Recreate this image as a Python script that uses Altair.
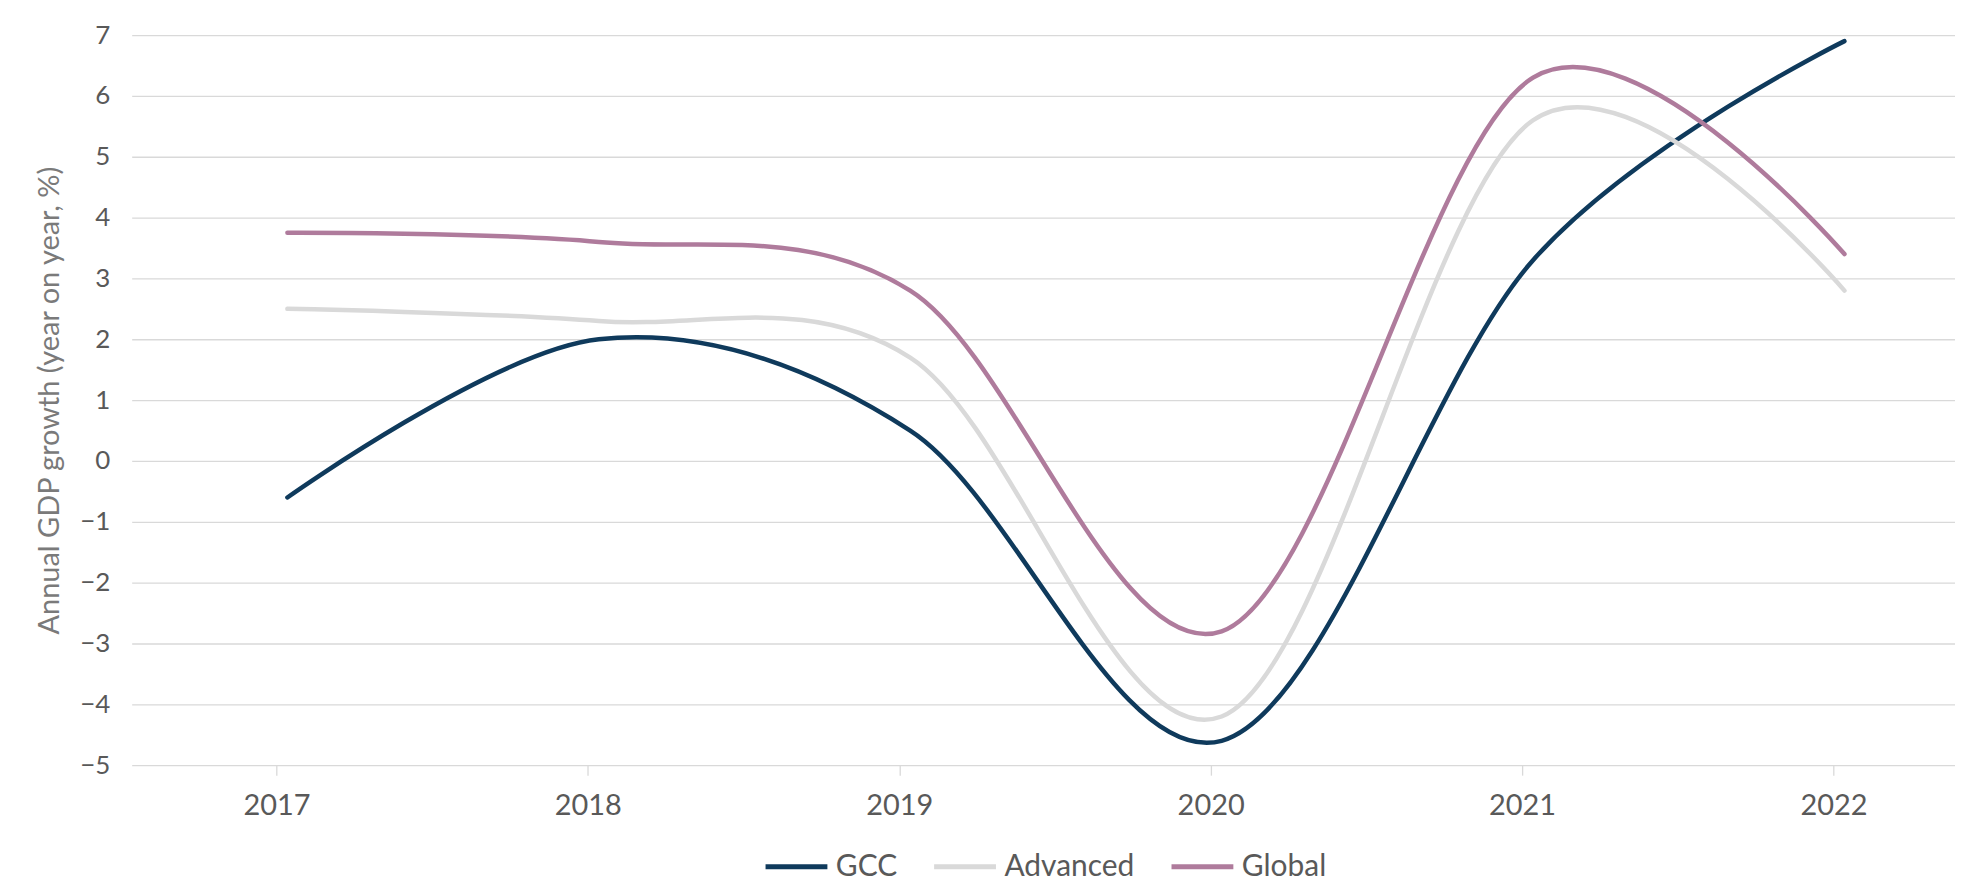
import altair as alt
import pandas as pd

years = [2017, 2018, 2019, 2020, 2021, 2022]
gcc = [-0.6, 2.0, 0.5, -4.6, 3.3, 6.9]
advanced = [2.5, 2.3, 1.7, -4.2, 5.6, 2.8]
global_ = [3.75, 3.6, 2.8, -2.8, 6.3, 3.4]

series_names = ["GCC", "Advanced", "Global"]
series_colors = ["#0F3A5C", "#D9D9D9", "#AF7B9C"]
y_ticks = list(range(-5, 8))

rows = []
for name, vals in zip(series_names, [gcc, advanced, global_]):
    for yr, v in zip(years, vals):
        rows.append({"year": yr, "value": v, "series": name})
df = pd.DataFrame(rows)

FONT = "Lato"
LABEL_COLOR = "#595959"

chart = (
    alt.Chart(df)
    .mark_line(interpolate="cardinal", tension=0, strokeWidth=4.5, strokeCap="round", strokeJoin="round")
    .encode(
        x=alt.X(
            "year:Q",
            scale=alt.Scale(domain=[2016.5, 2022.355], nice=False, zero=False),
            axis=alt.Axis(
                values=years,
                format="d",
                title=None,
                grid=False,
                domain=False,
                ticks=True,
                tickSize=10,
                tickColor="#D9D9D9",
                tickWidth=1.3,
                tickOffset=-11,
                labelFontSize=29,
                labelFont=FONT,
                labelColor=LABEL_COLOR,
                labelPadding=16,
            ),
        ),
        y=alt.Y(
            "value:Q",
            scale=alt.Scale(domain=[-5, 7], nice=False, zero=False),
            axis=alt.Axis(
                values=y_ticks,
                format="d",
                grid=True,
                gridColor="#D9D9D9",
                gridWidth=1.3,
                domain=False,
                ticks=False,
                labelFontSize=26,
                labelFont=FONT,
                labelColor=LABEL_COLOR,
                labelPadding=22,
                title="Annual GDP growth (year on year, %)",
                titleFont=FONT,
                titleFontSize=29,
                titleFontWeight="normal",
                titleColor="#7A7A7A",
                titleAngle=270,
                titleAlign="center",
                titleBaseline="middle",
                titleX=-82,
                titleY=366,
            ),
        ),
        color=alt.Color(
            "series:N",
            scale=alt.Scale(domain=series_names, range=series_colors),
            sort=series_names,
            legend=alt.Legend(
                title=None,
                orient="none",
                direction="horizontal",
                legendX=633,
                legendY=800,
                padding=0,
                symbolType="stroke",
                symbolStrokeWidth=5,
                symbolSize=3844,
                labelFontSize=30,
                labelFont=FONT,
                labelColor=LABEL_COLOR,
                labelOffset=6,
                columnPadding=26,
            ),
        ),
        order=alt.Order("year:Q"),
    )
    .properties(
        width=1828,
        height=732,
        autosize=alt.AutoSizeParams(type="none"),
        padding={"left": 124, "top": 26, "right": 0, "bottom": 115},
    )
    .configure_view(stroke=None)
)

chart.save("out.html", embed_options={"renderer": "svg", "actions": False})
